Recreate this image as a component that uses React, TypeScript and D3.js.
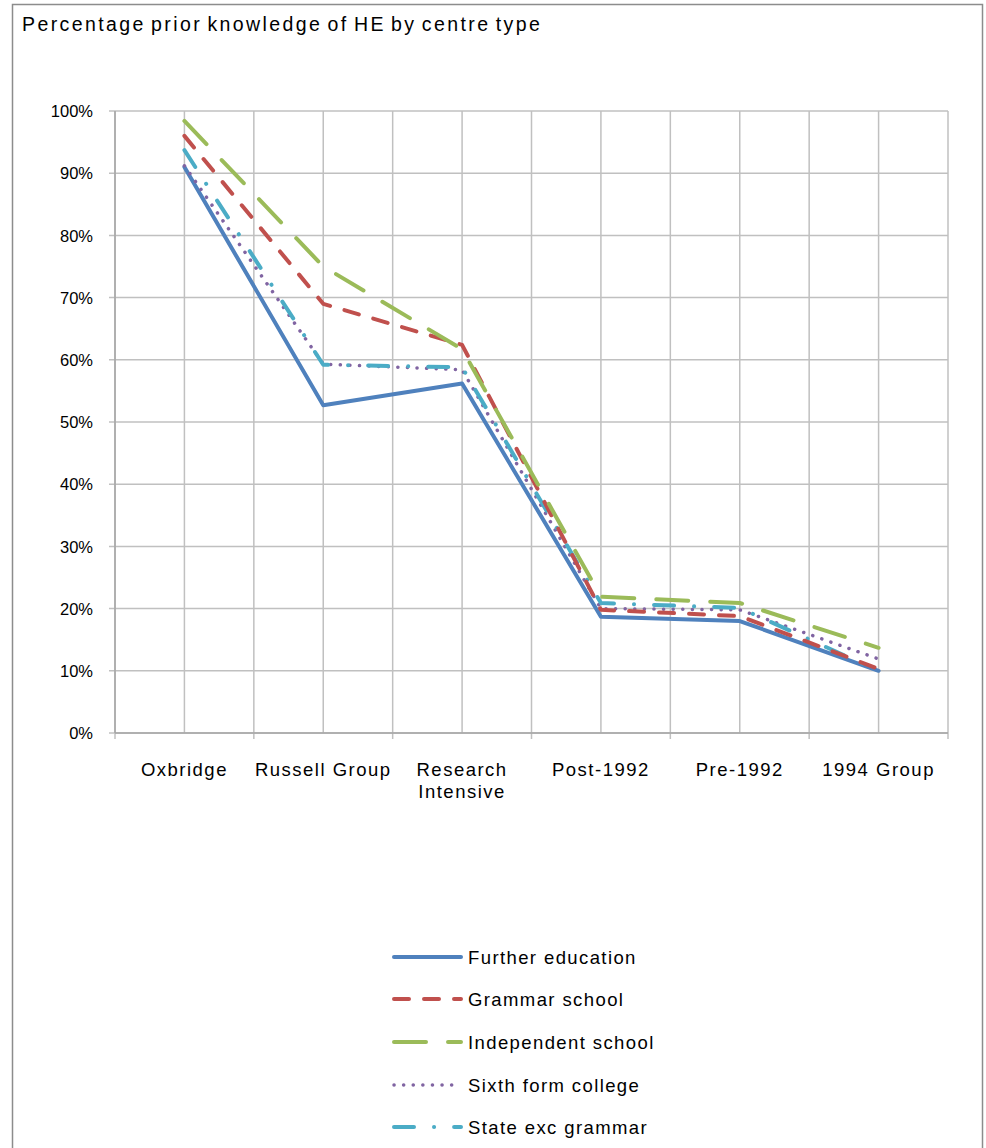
import React, { useEffect, useRef } from "react";
import * as d3 from "d3";

const categories = ["Oxbridge", "Russell Group", "Research Intensive", "Post-1992", "Pre-1992", "1994 Group"];
const furtherEducation = [0.91, 0.527, 0.562, 0.187, 0.18, 0.1];
const grammarSchool = [0.96, 0.69, 0.624, 0.198, 0.188, 0.103];
const independentSchool = [0.984, 0.75, 0.617, 0.219, 0.209, 0.137];
const sixthForm = [0.912, 0.593, 0.584, 0.2, 0.198, 0.119];
const stateExcGrammar = [0.937, 0.592, 0.588, 0.209, 0.201, 0.1];
const seriesNames = ["Further education", "Grammar school", "Independent school", "Sixth form college", "State exc grammar"];
const yTicks = [0, 0.1, 0.2, 0.3, 0.4, 0.5, 0.6, 0.7, 0.8, 0.9, 1];

const colors = ["#4f81bd", "#c0504d", "#9bbb59", "#8064a2", "#4bacc6"];
const dashes = [null, "15 15", "32 22", "0.1 9.5", "20 20 0.1 20"];

const App = () => {
  const chartRef = useRef<SVGSVGElement>(null);

  const drawChart = () => {
    d3.select(chartRef.current).selectAll("*").remove();
    const width = 986;
    const height = 1148;
    const svg = d3.select(chartRef.current).attr("width", width).attr("height", height);
    const font = "'Liberation Sans', Arial, sans-serif";

    svg.append("rect").attr("width", width).attr("height", height).attr("fill", "#fff");
    // outer frame
    svg.append("rect")
      .attr("x", 12.5).attr("y", 4.5).attr("width", 970).attr("height", 1160)
      .attr("fill", "none").attr("stroke", "#8c8c8c").attr("stroke-width", 1.5);

    svg.append("text")
      .attr("x", 22).attr("y", 31)
      .attr("font-family", font).attr("font-size", 19.5)
      .attr("letter-spacing", 2.4).attr("word-spacing", -2.5)
      .attr("fill", "#000")
      .text("Percentage prior knowledge of HE by centre type");

    const left = 115, right = 948, top = 111, bottom = 733;
    const x = d3.scaleBand().domain(categories).range([left, right]).padding(0);
    const bw = x.bandwidth();
    const cx = (c: string) => (x(c) as number) + bw / 2;
    const y = d3.scaleLinear().domain([0, 1]).range([bottom, top]);

    const grid = svg.append("g").attr("stroke", "#c0c0c0").attr("stroke-width", 1.5);
    // horizontal gridlines
    yTicks.forEach((t) => {
      grid.append("line").attr("x1", left - 6).attr("x2", right).attr("y1", y(t)).attr("y2", y(t));
    });
    // vertical gridlines at boundaries and centres
    const vLines: number[] = [];
    categories.forEach((c) => { vLines.push(x(c) as number, cx(c)); });
    vLines.push(right);
    vLines.forEach((v, i) => {
      grid.append("line")
        .attr("x1", v).attr("x2", v)
        .attr("y1", top).attr("y2", i % 2 === 0 ? bottom + 6 : bottom);
    });
    grid.append("line").attr("x1", left).attr("x2", left).attr("y1", top).attr("y2", bottom).attr("stroke", "#a6a6a6");
    grid.append("line").attr("x1", left).attr("x2", right).attr("y1", bottom).attr("y2", bottom).attr("stroke", "#a6a6a6");

    const yAxis = d3.axisLeft(y).tickValues(yTicks).tickFormat(d3.format(".0%")).tickSize(0).tickPadding(22);
    const ya = svg.append("g").attr("transform", `translate(${left},0)`).call(yAxis);
    ya.select(".domain").remove();
    ya.selectAll("text").attr("font-family", font).attr("font-size", 16.5).attr("fill", "#000").attr("dy", "0.35em");

    // category labels
    categories.forEach((c) => {
      const parts = c === "Research Intensive" ? ["Research", "Intensive"] : [c];
      parts.forEach((p, j) => {
        svg.append("text")
          .attr("x", cx(c)).attr("y", 776 + j * 22)
          .attr("text-anchor", "middle")
          .attr("font-family", font).attr("font-size", 18.5)
          .attr("letter-spacing", 1.5)
          .attr("fill", "#000")
          .text(p);
      });
    });

    const allSeries = [furtherEducation, grammarSchool, independentSchool, sixthForm, stateExcGrammar];
    const line = d3.line<number>()
      .x((d, i) => cx(categories[i]))
      .y((d) => y(d));

    const drawOrder = [0, 3, 4, 1, 2];
    drawOrder.forEach((k) => {
      svg.append("path")
        .attr("d", line(allSeries[k]))
        .attr("fill", "none")
        .attr("stroke", colors[k])
        .attr("stroke-width", k === 3 ? 3.5 : 4)
        .attr("stroke-linecap", "round")
        .attr("stroke-linejoin", "round")
        .attr("stroke-dasharray", dashes[k]);
    });

    // legend
    const legendY = [957, 999, 1042, 1085, 1127];
    seriesNames.forEach((name, k) => {
      const g = svg.append("g");
      g.append("line")
        .attr("x1", 394).attr("x2", 461)
        .attr("y1", legendY[k]).attr("y2", legendY[k])
        .attr("stroke", colors[k])
        .attr("stroke-width", k === 3 ? 3.5 : 4)
        .attr("stroke-linecap", "round")
        .attr("stroke-dasharray", dashes[k]);
      g.append("text")
        .attr("x", 468).attr("y", legendY[k] + 7)
        .attr("font-family", font).attr("font-size", 18.5)
        .attr("letter-spacing", 1.4)
        .attr("fill", "#000")
        .text(name);
    });
  };

  useEffect(() => {
    drawChart();
  }, []);

  return <svg ref={chartRef} style={{ position: "absolute", left: 0, top: 0 }}></svg>;
};

export default App;
